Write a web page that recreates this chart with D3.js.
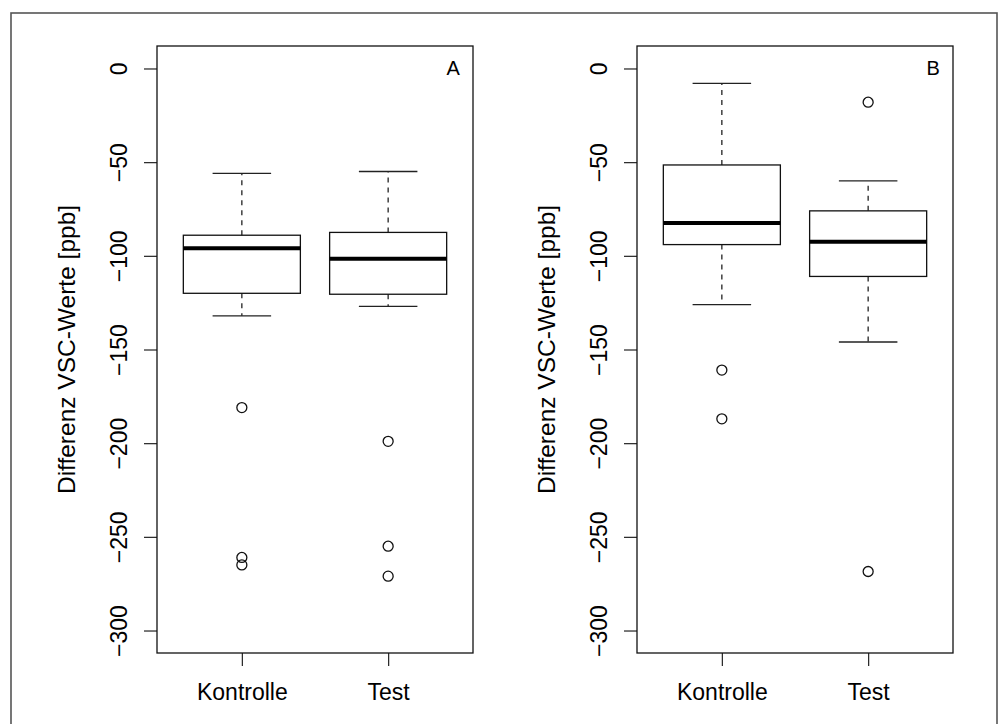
<!DOCTYPE html>
<html>
<head>
<meta charset="utf-8">
<script src="https://cdn.jsdelivr.net/npm/d3@7"></script>
<style>
  body { margin: 0; background: #fff; }
  svg { display: block; font-family: "Liberation Sans", Arial, Helvetica, sans-serif; }
</style>
</head>
<body>
<svg width="1003" height="724"></svg>
<script>
// data
const groups = ["Kontrolle", "Test"];
const panelNames = ["A", "B"];
const yTicks = [0, -50, -100, -150, -200, -250, -300];

// per group: [lower whisker, Q1, median, Q3, upper whisker]
const statsA = [
  [-132, -120, -96, -89, -56],
  [-127, -120.5, -101.5, -87.5, -55]
];
const outliersA = [
  [-181, -261, -265],
  [-199, -255, -271]
];
const statsB = [
  [-126, -94, -82.5, -51.5, -8],
  [-146, -111, -92.5, -76, -60]
];
const outliersB = [
  [-161, -187],
  [-18, -268.5]
];

const yLabel = "Differenz VSC-Werte [ppb]";

const svg = d3.select("svg");
const width = 1003, height = 724;
const plotTop = 46, plotBottom = 653, plotW = 316;
const panelLeft = [157, 637];

// outer frame (bottom runs off the picture)
svg.append("rect")
  .attr("x", 11).attr("y", 13)
  .attr("width", 986).attr("height", 730)
  .attr("fill", "none").attr("stroke", "#555").attr("stroke-width", 1.6);

const yScale = d3.scaleLinear().domain([-312, 12]).range([plotBottom, plotTop]);
const xScale = d3.scaleLinear().domain([0.42, 2.58]).range([0, plotW]);
const boxW = xScale(0.8) - xScale(0);
const capW = xScale(0.4) - xScale(0);

function drawPanel(i, stats, outliers) {
  const g = svg.append("g").attr("transform", `translate(${panelLeft[i]},0)`);

  // y axis
  const ya = g.append("g")
    .call(d3.axisLeft(yScale).tickValues(yTicks).tickSize(13).tickSizeOuter(0).tickFormat(d3.format("d")));
  ya.select(".domain").remove();
  ya.selectAll("line").attr("stroke", "#222").attr("stroke-width", 1.2);
  ya.selectAll("text")
    .attr("x", null).attr("dy", null)
    .attr("transform", "translate(-30.5,0) rotate(-90)")
    .attr("text-anchor", "middle")
    .attr("fill", "#000")
    .style("font-size", "23px");

  // x axis
  const xa = g.append("g")
    .attr("transform", `translate(0,${plotBottom})`)
    .call(d3.axisBottom(xScale).tickValues([1, 2]).tickSize(13).tickSizeOuter(0).tickFormat((d, j) => groups[j]));
  xa.select(".domain").remove();
  xa.selectAll("line").attr("stroke", "#222").attr("stroke-width", 1.2);
  xa.selectAll("text")
    .attr("y", 47).attr("dy", null)
    .attr("fill", "#000")
    .style("font-size", "23px");

  // y label
  g.append("text")
    .attr("transform", `translate(-82,${(plotTop + plotBottom) / 2}) rotate(-90)`)
    .attr("text-anchor", "middle")
    .style("font-size", "24.5px")
    .text(yLabel);

  // boxes
  stats.forEach((s, j) => {
    const cx = xScale(j + 1);
    const [lo, q1, med, q3, hi] = s;
    // whiskers
    g.append("line")
      .attr("x1", cx).attr("x2", cx)
      .attr("y1", yScale(q3)).attr("y2", yScale(hi))
      .attr("stroke", "#222").attr("stroke-width", 1.3).attr("stroke-dasharray", "5,5");
    g.append("line")
      .attr("x1", cx).attr("x2", cx)
      .attr("y1", yScale(q1)).attr("y2", yScale(lo))
      .attr("stroke", "#222").attr("stroke-width", 1.3).attr("stroke-dasharray", "5,5");
    [lo, hi].forEach(v => {
      g.append("line")
        .attr("x1", cx - capW / 2).attr("x2", cx + capW / 2)
        .attr("y1", yScale(v)).attr("y2", yScale(v))
        .attr("stroke", "#222").attr("stroke-width", 1.3);
    });
    g.append("rect")
      .attr("x", cx - boxW / 2).attr("y", yScale(q3))
      .attr("width", boxW).attr("height", yScale(q1) - yScale(q3))
      .attr("fill", "none").attr("stroke", "#111").attr("stroke-width", 1.3);
    g.append("line")
      .attr("x1", cx - boxW / 2).attr("x2", cx + boxW / 2)
      .attr("y1", yScale(med)).attr("y2", yScale(med))
      .attr("stroke", "#000").attr("stroke-width", 4);

    g.selectAll(null)
      .data(outliers[j])
      .join("circle")
      .attr("cx", cx)
      .attr("cy", d => yScale(d))
      .attr("r", 5)
      .attr("fill", "none").attr("stroke", "#111").attr("stroke-width", 1.3);
  });

  // plot frame
  g.append("rect")
    .attr("x", 0).attr("y", plotTop)
    .attr("width", plotW).attr("height", plotBottom - plotTop)
    .attr("fill", "none").attr("stroke", "#111").attr("stroke-width", 1.3);

  // panel letter
  g.append("text")
    .attr("x", xScale(2.445))
    .attr("y", yScale(0) + 7)
    .attr("text-anchor", "middle")
    .style("font-size", "20px")
    .text(panelNames[i]);
}

drawPanel(0, statsA, outliersA);
drawPanel(1, statsB, outliersB);
</script>
</body>
</html>
